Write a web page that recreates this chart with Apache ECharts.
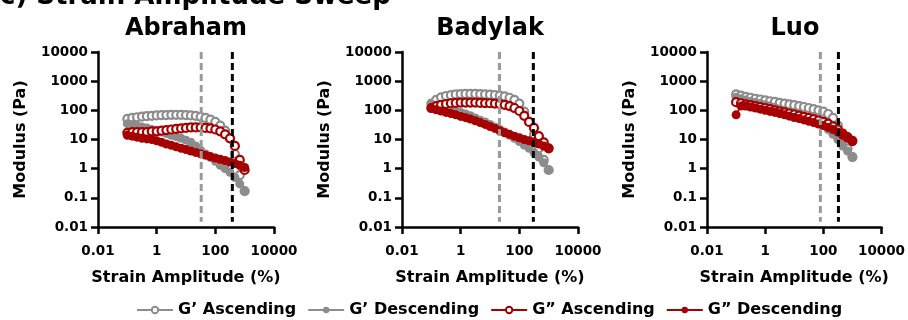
<!DOCTYPE html>
<html>
<head>
<meta charset="utf-8">
<script src="https://cdn.jsdelivr.net/npm/echarts@6/dist/echarts.min.js"></script>
<style>
  html, body { margin: 0; padding: 0; background: #fff; }
  #chart { width: 908px; height: 320px; }
</style>
</head>
<body>
<div id="chart"></div>
<script>
// strain amplitude (%) at each measured point
const strain = [0.1, 0.147, 0.215, 0.316, 0.464, 0.681, 1, 1.47, 2.15, 3.16, 4.64, 6.81, 10, 14.7, 21.5, 31.6, 46.4, 68.1, 100, 147, 215, 316, 464, 681, 1000]

const abrahamGpAsc = [51, 55, 58, 61, 63, 65, 67, 68, 69, 70, 70, 70, 69, 67, 65, 60, 55, 48, 40, 30, 20, 11, 3.2, 0.6, 0.17]
const abrahamGpDesc = [35, 33, 30, 27, 25, 22, 20, 18, 16, 14, 12.5, 11, 9.5, 8, 6, 4.2, 3.2, 2.4, 1.8, 1.3, 1, 0.75, 0.5, 0.3, 0.17]
const abrahamGppAsc = [17, 18, 18, 18, 18, 19, 19, 20, 21, 22, 23, 24, 25, 26, 26, 26, 25, 24, 22, 19, 15, 11, 6, 2, 0.9]
const abrahamGppDesc = [14, 13, 12, 11, 10.5, 10, 9, 8, 7, 6.3, 5.6, 5, 4.5, 4, 3.6, 3.2, 2.9, 2.6, 2.3, 2.1, 1.9, 1.7, 1.5, 1.3, 1.1]

const badylakGpAsc = [170, 230, 280, 310, 330, 350, 360, 365, 365, 365, 360, 355, 345, 335, 320, 300, 270, 230, 170, 90, 40, 15, 5, 2, 0.9]
const badylakGpDesc = [160, 150, 135, 125, 110, 95, 85, 75, 65, 55, 46, 40, 33, 27, 22, 18, 14, 11, 8.5, 6.5, 5, 3.5, 2.5, 1.6, 0.9]
const badylakGppAsc = [120, 140, 155, 165, 175, 180, 185, 185, 185, 185, 180, 178, 175, 170, 165, 155, 140, 120, 95, 65, 40, 25, 13, 8, 5]
const badylakGppDesc = [120, 105, 95, 85, 78, 70, 62, 56, 50, 44, 38, 33, 28, 24, 20, 17, 15, 13, 11.5, 10, 9, 8, 7, 6, 5]

const luoGpAsc = [350, 320, 290, 270, 250, 235, 220, 205, 195, 180, 170, 160, 150, 140, 130, 120, 110, 100, 90, 75, 55, 30, 12, 5, 2.5]
const luoGpDesc = [280, 250, 225, 200, 185, 170, 155, 140, 125, 110, 100, 90, 80, 72, 64, 55, 47, 40, 30, 22, 15, 10, 6, 4, 2.6]
const luoGppAsc = [190, 175, 160, 150, 140, 130, 120, 110, 100, 92, 85, 78, 72, 66, 60, 55, 50, 45, 40, 35, 28, 22, 16, 12, 9]
const luoGppDesc = [70, 140, 140, 130, 120, 110, 100, 92, 85, 78, 70, 63, 57, 52, 47, 42, 38, 34, 30, 26, 22, 18, 14, 11, 8.5]

// dashed limits: [grey, black] strain values
const abrahamLimits = [33, 380]
const badylakLimits = [21, 300]
const luoLimits = [79, 330]

const panelNames = ['Abraham', 'Badylak', 'Luo']
const seriesNames = ['G\u2019 Ascending', 'G\u2019 Descending', 'G\u201D Ascending', 'G\u201D Descending']
const xTicks = ['0.01', '1', '100', '10000']
const yTicks = ['0.01', '0.1', '1', '10', '100', '1000', '10000']

const FONT = 'DejaVu Sans'
const GREY = '#8c8c8c'
const RED = '#a60000'
const gridLeft = [98, 402, 707]

const panels = [
  [abrahamGpAsc, abrahamGpDesc, abrahamGppAsc, abrahamGppDesc, abrahamLimits],
  [badylakGpAsc, badylakGpDesc, badylakGppAsc, badylakGppDesc, badylakLimits],
  [luoGpAsc, luoGpDesc, luoGppAsc, luoGppDesc, luoLimits],
]

const styles = [
  { color: GREY, open: true },
  { color: GREY, open: false },
  { color: RED, open: true },
  { color: RED, open: false },
]

const pair = (ys) => strain.map((x, i) => [x, ys[i]])

const series = []
panels.forEach((p, k) => {
  for (let s = 0; s < 4; s++) {
    const st = styles[s]
    series.push({
      name: seriesNames[s],
      type: 'line',
      xAxisIndex: k,
      yAxisIndex: k,
      data: pair(p[s]),
      symbol: 'circle',
      symbolSize: st.open ? 8 : 9,
      showSymbol: true,
      lineStyle: { color: st.color, width: 1.5 },
      itemStyle: st.open
        ? { color: '#fff', borderColor: st.color, borderWidth: 2.2 }
        : { color: st.color, borderColor: st.color, borderWidth: 0 },
      emphasis: { disabled: true },
      animation: false,
      z: 2,
    })
  }
  const lim = p[4]
  ;[GREY, '#000'].forEach((c, j) => {
    series.push({
      name: 'limit' + k + j,
      type: 'line',
      xAxisIndex: k,
      yAxisIndex: k,
      data: [[lim[j], 10000], [lim[j], 0.015]],
      symbol: 'none',
      lineStyle: { color: j ? '#000' : '#999', width: 3, type: [7, 4] },
      silent: true,
      animation: false,
      z: 5,
    })
  })
})

const labelFont = { fontFamily: FONT, fontWeight: 'bold', fontSize: 13.5, color: '#000' }
const nameFont = { fontFamily: FONT, fontWeight: 'bold', fontSize: 16, color: '#000' }

const option = {
  backgroundColor: '#fff',
  animation: false,
  graphic: [
    {
      type: 'text', left: 0, top: -16,
      style: { text: 'c) Strain Amplitude Sweep', font: 'bold 26px "DejaVu Sans"', fill: '#000' },
    },
    ...panelNames.map((n, k) => ({
      type: 'text',
      x: gridLeft[k] + 88, y: 29,
      style: { text: n, font: 'bold 24px "DejaVu Sans"', fill: '#000', align: 'center', verticalAlign: 'middle' },
    })),
  ],
  legend: {
    data: seriesNames,
    left: 131,
    top: 297,
    itemWidth: 36,
    itemHeight: 8,
    itemGap: 11,
    textStyle: { fontFamily: FONT, fontWeight: 'bold', fontSize: 16, color: '#000' },
  },
  grid: gridLeft.map((l) => ({ left: l, top: 52, width: 176, height: 175 })),
  xAxis: gridLeft.map((l, k) => ({
    type: 'log',
    gridIndex: k,
    logBase: 10,
    min: 0.01,
    max: 10000,
    interval: 2,
    name: 'Strain Amplitude (%)',
    nameLocation: 'middle',
    nameGap: 43,
    nameTextStyle: nameFont,
    axisLine: { onZero: false, lineStyle: { color: '#000', width: 2.5 } },
    axisTick: { length: 7, lineStyle: { color: '#000', width: 2.5 } },
    axisLabel: {
      ...labelFont,
      margin: 17,
      formatter: (v) => xTicks[(Math.round(Math.log10(v)) + 2) / 2],
    },
    splitLine: { show: false },
    minorTick: { show: false },
  })),
  yAxis: gridLeft.map((l, k) => ({
    type: 'log',
    gridIndex: k,
    logBase: 10,
    min: 0.01,
    max: 10000,
    interval: 1,
    name: 'Modulus (Pa)',
    nameLocation: 'middle',
    nameGap: 69,
    nameTextStyle: nameFont,
    axisLine: { onZero: false, lineStyle: { color: '#000', width: 2.5 } },
    axisTick: { length: 7, lineStyle: { color: '#000', width: 2.5 } },
    axisLabel: {
      ...labelFont,
      margin: 10,
      formatter: (v) => yTicks[Math.round(Math.log10(v)) + 2],
    },
    splitLine: { show: false },
    minorTick: { show: false },
  })),
  series,
}

const myChart = echarts.init(document.getElementById('chart'))
myChart.setOption(option)
</script>
</body>
</html>
